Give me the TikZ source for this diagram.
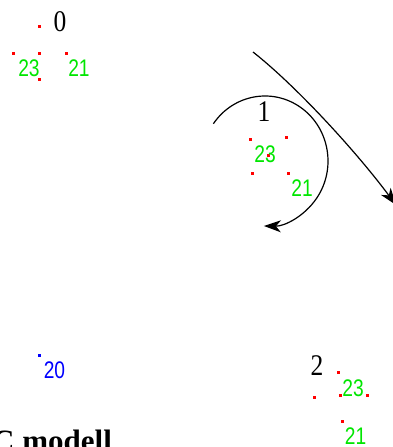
\documentclass[tikz,border=0pt]{standalone}
\usepackage{fontspec}
\setmainfont{Liberation Serif}
\newfontfamily\numfont[FakeStretch=0.8]{Liberation Sans}
\newfontfamily\idfont[FakeStretch=0.85]{Liberation Serif}
\usetikzlibrary{arrows.meta,calc}
\definecolor{rdc}{RGB}{255,0,0}
\definecolor{gnc}{RGB}{0,230,0}
\definecolor{blc}{RGB}{0,0,255}
\tikzset{
  rdot/.style={rectangle,fill=rdc,minimum size=3pt,inner sep=0pt,outer sep=0pt},
  bdot/.style={rectangle,fill=blc,minimum size=3pt,inner sep=0pt,outer sep=0pt},
  glab/.style={inner sep=0pt,text=gnc,font=\numfont\fontsize{24}{24}\selectfont},
  blab/.style={inner sep=0pt,text=blc,font=\numfont\fontsize{24}{24}\selectfont},
  klab/.style={inner sep=0pt,text=black,font=\idfont\fontsize{30}{30}\selectfont},
  conn/.style={draw=black,line width=1.2pt,-{Stealth[length=17pt,width=12pt,inset=5pt]}}
}
\begin{document}
\begin{tikzpicture}[x=1pt,y=-1pt]
\useasboundingbox (0,0) rectangle (393,447);
\clip (0,0) rectangle (393,447);
% group 0
\node[rdot] (g0a) at (39,26) {};
\node[rdot] (g0b) at (13,53) {};
\node[rdot] (g0c) at (39,53) {};
\node[rdot] (g0d) at (66,53) {};
\node[rdot] (g0e) at (39,79) {};
\node[klab] (l0) at (60,22) {0};
\node[glab] (l0a) at (29,68) {23};
\node[glab] (l0b) at (79,68) {21};
% group 1
\node[rdot] (g1a) at (250,139) {};
\node[rdot] (g1b) at (286,137) {};
\node[rdot] (g1c) at (268,155) {};
\node[rdot] (g1d) at (252,173) {};
\node[rdot] (g1e) at (288,173) {};
\node[klab] (l1) at (264,112) {1};
\node[glab] (l1a) at (265,154.5) {23};
\node[glab] (l1b) at (302,188.5) {21};
% group 2
\node[rdot] (g2a) at (338,372) {};
\node[rdot] (g2b) at (314,397) {};
\node[rdot] (g2c) at (340,395) {};
\node[rdot] (g2d) at (367,395) {};
\node[rdot] (g2e) at (342,421) {};
\node[klab] (l2) at (317,366) {2};
\node[glab] (l2a) at (353,388) {23};
\node[glab] (l2b) at (355.5,436) {21};
% blue
\node[bdot] (b0) at (39,355) {};
\node[blab] (lb) at (54.5,370.5) {20};
% caption
\node[anchor=base west,inner sep=0pt,font=\bfseries\fontsize{31}{31}\selectfont] (cap) at (-8,451) {C modell};
% connectors
\coordinate (c1) at (265,161);
\coordinate (a1s) at ($(c1)+(-145:63 and 65)$);
\draw[conn] (a1s) arc[start angle=-145,end angle=91,x radius=63,y radius=65];
\coordinate (a2s) at (253,52);
\coordinate (a2e) at (396,205);
\draw[conn] (a2s) .. controls (295,85) and (355,150) .. (a2e);
\end{tikzpicture}
\end{document}
